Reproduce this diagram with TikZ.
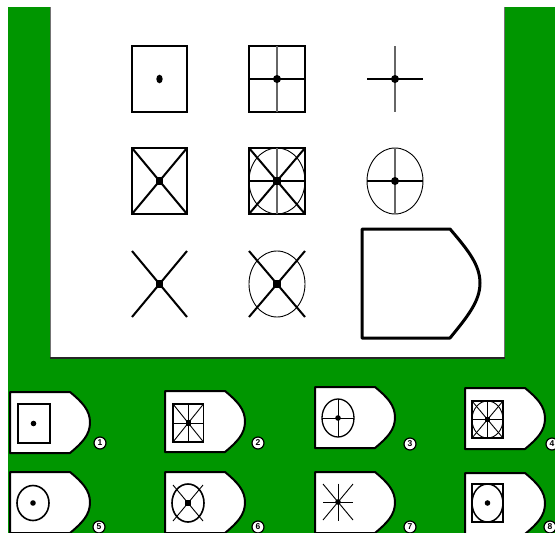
\documentclass[tikz,border=0pt]{standalone}
\usepackage{fontspec}
\setmainfont{Liberation Sans}
\definecolor{bggreen}{RGB}{0,150,0}
\newcommand\rdot{}
\renewcommand\rdot[2]{\fill (#1,#2) circle [radius=4];}
\newcommand\sqd[2]{\fill (#1-3.8,#2-3.8) rectangle ++(7.6,7.6);}
\newcommand\sqds[2]{\fill (#1-2.6,#2-2.6) rectangle ++(5.2,5.2);}
\tikzset{
  thinln/.style={line width=1.1pt, black},
  thickln/.style={line width=2pt, black},
  grayln/.style={line width=1.1pt, black!60},
  optshape/.style={draw=black, fill=white, line width=2pt, line join=round},
  optthin/.style={line width=0.9pt, black},
  optmid/.style={line width=1.3pt, black},
  numcirc/.style={circle, draw=black, fill=white, line width=1.2pt, inner sep=0pt,
    minimum size=12pt, font=\fontsize{8.5}{8.5}\selectfont\bfseries}
}
\begin{document}
\begin{tikzpicture}[x=1pt,y=-1pt]
\useasboundingbox (0,0) rectangle (555,533);
\fill[white] (0,0) rectangle (555,533);
\fill[bggreen] (8,7) rectangle (555,533);
% panel
\fill[white] (50,0) rectangle (504,358);
\draw[line width=0.8pt, black!55] (50,7) -- (50,358);
\draw[line width=0.8pt, black!55] (504,7) -- (504,358);
\draw[line width=1.6pt, black!85] (49.5,358) -- (504.5,358);

% ---- Row 1
\draw[thinln] (132,46) rectangle (187,112);
\fill (159.5,79) ellipse [x radius=3.2, y radius=4.3];

\draw[thinln] (249,46) rectangle (305,112);
\draw[grayln] (277,46) -- (277,112);
\draw[thickln] (249,79) -- (305,79);
\rdot{277}{79}

\draw[grayln] (395,46) -- (395,112);
\draw[thickln] (367,79) -- (423,79);
\rdot{395}{79}

% ---- Row 2
\draw[thinln] (132,148) rectangle (187,214);
\draw[thickln] (132,148) -- (187,214);
\draw[thickln] (187,148) -- (132,214);
\sqd{159.5}{181}

\draw[thinln] (249,148) rectangle (305,214);
\draw[line width=0.9pt] (277,181) ellipse [x radius=28, y radius=33];
\draw[grayln] (277,148) -- (277,214);
\draw[thickln] (249,181) -- (305,181);
\draw[thickln] (249,148) -- (305,214);
\draw[thickln] (305,148) -- (249,214);
\sqd{277}{181}

\draw[line width=0.9pt] (395,181) ellipse [x radius=28, y radius=33];
\draw[grayln] (395,148) -- (395,214);
\draw[thickln] (367,181) -- (423,181);
\rdot{395}{181}

% ---- Row 3
\draw[thickln] (132,251) -- (187,317);
\draw[thickln] (187,251) -- (132,317);
\sqd{159.5}{284}

\draw[line width=0.9pt] (277,284) ellipse [x radius=28, y radius=33];
\draw[thickln] (249,251) -- (305,317);
\draw[thickln] (305,251) -- (249,317);
\sqd{277}{284}

\draw[line width=3pt, line join=round] (362,229) -- (450,229)
  .. controls (468,250) and (480,265) .. (480,283)
  .. controls (480,301) and (468,316) .. (450,338) -- (362,338) -- cycle;

% ---- Options
% 1
\begin{scope}[shift={(10,392)}]
\draw[optshape] (0,0) -- (60,0) .. controls (72,10) and (80,18) .. (80,30.5) .. controls (80,43) and (72,51) .. (60,61) -- (0,61) -- cycle;
\draw[optmid] (8,12) rectangle (40,51);
\fill (23.5,31.5) circle [radius=2.8];
\end{scope}
% 2
\begin{scope}[shift={(165,391)}]
\draw[optshape] (0,0) -- (60,0) .. controls (72,10) and (80,18) .. (80,30.5) .. controls (80,43) and (72,51) .. (60,61) -- (0,61) -- cycle;
\draw[optmid] (8,13) rectangle (38.5,51);
\draw[optthin] (23.25,13) -- (23.25,51);
\draw[optthin] (8,32) -- (38.5,32);
\draw[optthin] (8,13) -- (38.5,51);
\draw[optthin] (38.5,13) -- (8,51);
\sqds{23.25}{32}
\end{scope}
% 3
\begin{scope}[shift={(315,387)}]
\draw[optshape] (0,0) -- (60,0) .. controls (72,10) and (80,18) .. (80,30.5) .. controls (80,43) and (72,51) .. (60,61) -- (0,61) -- cycle;
\draw[optmid] (23,31) ellipse [x radius=16, y radius=19];
\draw[optthin] (7,31) -- (39,31);
\draw[optthin] (23,12) -- (23,50);
\fill (23,31) circle [radius=2.8];
\end{scope}
% 4
\begin{scope}[shift={(465,388)}]
\draw[optshape] (0,0) -- (60,0) .. controls (72,10) and (80,18) .. (80,30.5) .. controls (80,43) and (72,51) .. (60,61) -- (0,61) -- cycle;
\draw[optmid] (7,13) rectangle (38,50);
\draw[optthin] (22.5,31.5) ellipse [x radius=15.5, y radius=18.5];
\draw[optthin] (22.5,13) -- (22.5,50);
\draw[optthin] (7,31.5) -- (38,31.5);
\draw[optthin] (7,13) -- (38,50);
\draw[optthin] (38,13) -- (7,50);
\sqds{22.5}{31.5}
\end{scope}
% 5
\begin{scope}[shift={(10,472)}]
\draw[optshape] (0,0) -- (60,0) .. controls (72,10) and (80,18) .. (80,30.5) .. controls (80,43) and (72,51) .. (60,61) -- (0,61) -- cycle;
\draw[line width=1.6pt] (23,31) ellipse [x radius=16, y radius=17.5];
\fill (23,31) circle [radius=2.8];
\end{scope}
% 6
\begin{scope}[shift={(165,472)}]
\draw[optshape] (0,0) -- (60,0) .. controls (72,10) and (80,18) .. (80,30.5) .. controls (80,43) and (72,51) .. (60,61) -- (0,61) -- cycle;
\draw[line width=1.6pt] (23,31) ellipse [x radius=16, y radius=19];
\draw[optthin] (8,13) -- (38,49);
\draw[optthin] (38,13) -- (8,49);
\sqds{23}{31}
\end{scope}
% 7
\begin{scope}[shift={(315,472)}]
\draw[optshape] (0,0) -- (60,0) .. controls (72,10) and (80,18) .. (80,30.5) .. controls (80,43) and (72,51) .. (60,61) -- (0,61) -- cycle;
\draw[optthin] (8,30) -- (38,30);
\draw[optthin] (23,11.5) -- (23,48.5);
\draw[optthin] (8,12) -- (38,48);
\draw[optthin] (38,12) -- (8,48);
\fill (23,30) circle [radius=2.8];
\end{scope}
% 8
\begin{scope}[shift={(465,473)}]
\draw[optshape] (0,0) -- (60,0) .. controls (72,10) and (80,18) .. (80,30.5) .. controls (80,43) and (72,51) .. (60,61) -- (0,61) -- cycle;
\draw[optmid] (7,11) rectangle (38,49);
\draw[line width=1.5pt] (22.5,30) ellipse [x radius=15.5, y radius=19];
\fill (22.5,30) circle [radius=2.8];
\end{scope}

% numbers
\node[numcirc] (n1) at (100,443) {1};
\node[numcirc] (n2) at (258,443) {2};
\node[numcirc] (n3) at (410,444) {3};
\node[numcirc] (n4) at (552,444) {4};
\node[numcirc] (n5) at (99,527) {5};
\node[numcirc] (n6) at (258,527) {6};
\node[numcirc] (n7) at (410,527) {7};
\node[numcirc] (n8) at (550,527) {8};
\end{tikzpicture}
\end{document}
